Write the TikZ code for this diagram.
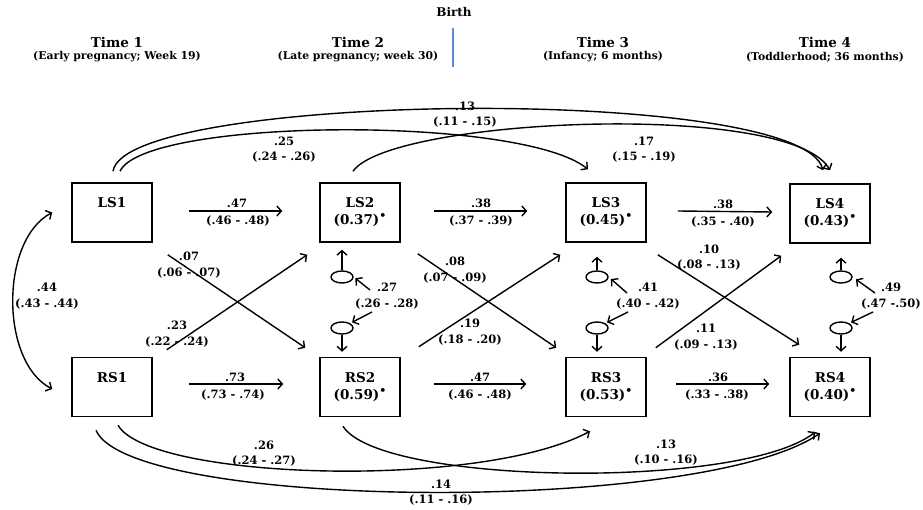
\documentclass[tikz,border=0pt]{standalone}
\usepackage{fontspec}
\setmainfont{DejaVu Serif}
\usetikzlibrary{arrows.meta,shapes.geometric}
\definecolor{birthblue}{RGB}{90,140,210}
\newcommand{\sigdot}{\raisebox{0.38em}{\fontsize{11}{11}\selectfont•}}
\begin{document}
\begin{tikzpicture}[x=1pt,y=-1pt,
  box/.style={draw, line width=1.5pt, minimum width=80pt, minimum height=59pt, inner sep=0pt, align=center, font=\bfseries\fontsize{13.5}{17}\selectfont},
  lbl/.style={inner sep=0pt, align=center, font=\bfseries\fontsize{11.5}{15.5}\selectfont},
  hdr/.style={inner sep=0pt, font=\bfseries\fontsize{13.5}{15}\selectfont},
  sub/.style={inner sep=0pt, font=\bfseries\fontsize{10.8}{12}\selectfont},
  ell/.style={ellipse, draw, line width=1.4pt, minimum width=22pt, minimum height=12pt, inner sep=0pt},
  arr/.style={line width=1.4pt, -{Straight Barb[length=4.5pt,width=10pt]}},
  arrtwo/.style={line width=1.4pt, {Straight Barb[length=4.5pt,width=10pt]}-{Straight Barb[length=4.5pt,width=10pt]}}
]
\fill[white] (0,0) rectangle (923,510);
\useasboundingbox (0,0) rectangle (923,510);

% header
\node[hdr, font=\bfseries\fontsize{12}{14}\selectfont] (birth) at (454,12) {Birth};
\draw[birthblue, line width=2.5pt] (453,28) -- (453,67);
\node[hdr] (t1) at (117,42) {Time 1};
\node[sub] (s1) at (117,57) {(Early pregnancy; Week 19)};
\node[hdr] (t2) at (358,42) {Time 2};
\node[sub] (s2) at (358,57) {(Late pregnancy; week 30)};
\node[hdr] (t3) at (603,42) {Time 3};
\node[sub] (s3) at (603,57) {(Infancy; 6 months)};
\node[hdr] (t4) at (825,42) {Time 4};
\node[sub] (s4) at (825,57) {(Toddlerhood; 36 months)};

% boxes
\node[box] (LS1) at (112,212.5) {LS1\\\phantom{(0.37)}};
\node[box] (LS2) at (360,212.5) {LS2\\(0.37)\sigdot};
\node[box] (LS3) at (606,212.5) {LS3\\(0.45)\sigdot};
\node[box] (LS4) at (830,213.5) {LS4\\(0.43)\sigdot};
\node[box] (RS1) at (112,387) {RS1\\\phantom{(0.59)}};
\node[box] (RS2) at (360,387) {RS2\\(0.59)\sigdot};
\node[box] (RS3) at (606,387) {RS3\\(0.53)\sigdot};
\node[box] (RS4) at (830,387) {RS4\\(0.40)\sigdot};

% residual ellipses
\node[ell] (e2u) at (342,277) {};
\node[ell] (e2d) at (342,328) {};
\node[ell] (e3u) at (597,277) {};
\node[ell] (e3d) at (597,328) {};
\node[ell] (e4u) at (841,277) {};
\node[ell] (e4d) at (841,328) {};
\draw[arr, shorten >=7pt] (e2u.north) -- (e2u.north |- LS2.south);
\draw[arr, shorten >=14pt] (e3u.north) -- (e3u.north |- LS3.south);
\draw[arr, shorten >=14pt] (e4u.north) -- (e4u.north |- LS4.south);
\draw[arr, shorten >=5pt] (e2d.south) -- (e2d.south |- RS2.north);
\draw[arr, shorten >=5pt] (e3d.south) -- (e3d.south |- RS3.north);
\draw[arr, shorten >=5pt] (e4d.south) -- (e4d.south |- RS4.north);

% residual covariances
\node[lbl] (c27) at (387,296) {.27\\(.26 - .28)};
\node[lbl] (c41) at (648,296) {.41\\(.40 - .42)};
\node[lbl] (c49) at (891,296) {.49\\(.47 -.50)};
\coordinate (c27a) at (370,290);
\coordinate (c27b) at (372,312);
\coordinate (c41a) at (627,293);
\coordinate (c41b) at (628,312);
\coordinate (c49a) at (875,293);
\coordinate (c49b) at (873,312);
\draw[arr, shorten >=2pt] (c27a) -- (e2u.east);
\draw[arr, shorten >=2pt] (c27b) -- (e2d.north east);
\draw[arr, shorten >=3pt] (c41a) -- (e3u.east);
\draw[arr, shorten >=2pt] (c41b) -- (e3d.north east);
\draw[arr, shorten >=4pt] (c49a) -- (e4u.east);
\draw[arr, shorten >=2pt] (c49b) -- (e4d.north east);

% horizontal paths
\draw[arr] ([shift={(36,-1.5)}]LS1.east) -- ([shift={(-37,-1.5)}]LS2.west);
\draw[arr] ([shift={(33,-1.5)}]LS2.east) -- ([shift={(-38,-1.5)}]LS3.west);
\draw[arr] ([shift={(31,-1.5)}]LS3.east) -- ([shift={(-17,-1.5)}]LS4.west);
\draw[arr] ([shift={(36,-3)}]RS1.east) -- ([shift={(-36,-3)}]RS2.west);
\draw[arr] ([shift={(33,-3)}]RS2.east) -- ([shift={(-39,-3)}]RS3.west);
\draw[arr] ([shift={(29,-3)}]RS3.east) -- ([shift={(-20,-3)}]RS4.west);
\node[lbl] (h47a) at (237,203) {.47};
\node[lbl] (h47b) at (238,221) {(.46 - .48)};
\node[lbl] (h38a) at (481,203) {.38};
\node[lbl] (h38b) at (481,221) {(.37 - .39)};
\node[lbl] (h38c) at (723,204) {.38};
\node[lbl] (h38d) at (723,222) {(.35 - .40)};
\node[lbl] (h73a) at (235,377) {.73};
\node[lbl] (h73b) at (233,395) {(.73 - .74)};
\node[lbl] (h47c) at (480,377) {.47};
\node[lbl] (h47d) at (480,395) {(.46 - .48)};
\node[lbl] (h36a) at (718,377) {.36};
\node[lbl] (h36b) at (717,395) {(.33 - .38)};

% cross-lagged paths
\node[lbl] (x07) at (189,265) {.07\\(.06 - .07)};
\node[lbl] (x23) at (177,334) {.23\\(.22 - .24)};
\node[lbl] (x08) at (455,270) {.08\\(.07 - .09)};
\node[lbl] (x19) at (470,332) {.19\\(.18 - .20)};
\node[lbl] (x10) at (709,257.5) {.10\\(.08 - .13)};
\node[lbl] (x11) at (706,337) {.11\\(.09 - .13)};
\draw[arr] ([shift={(15,12)}]LS1.south east) -- ([shift={(-14,-9)}]RS2.north west);
\draw[arr] ([shift={(14,-7)}]RS1.north east) -- ([shift={(-12,12)}]LS2.south west);
\draw[arr] ([shift={(17,11)}]LS2.south east) -- ([shift={(-9,-9)}]RS3.north west);
\draw[arr] ([shift={(18,-10)}]RS2.north east) -- ([shift={(-5,12)}]LS3.south west);
\draw[arr] ([shift={(11,12)}]LS3.south east) -- ([shift={(10,-12)}]RS4.north west);
\draw[arr] ([shift={(9,-9)}]RS3.north east) -- ([shift={(-8,12)}]LS4.south west);

% concurrent correlation
\node[lbl] (c44) at (47,296) {.44\\(.43 - .44)};
\draw[arrtwo] ([shift={(-19,0)}]LS1.west) .. controls (0,240) and (0,362) .. ([shift={(-19,2)}]RS1.west);

% long lags top
\node[lbl] (l13) at (465,114.5) {.13\\(.11 - .15)};
\node[lbl] (l25) at (284,149.5) {.25\\(.24 - .26)};
\node[lbl] (l17) at (644,149.5) {.17\\(.15 - .19)};
\draw[arr] ([shift={(1,-11)}]LS1.north) .. controls (125,92) and (800,84) .. ([shift={(-7,-13)}]LS4.north);
\draw[arr] ([shift={(8,-11)}]LS1.north) .. controls (145,118) and (520,115) .. ([shift={(-18,-13)}]LS3.north);
\draw[arr] ([shift={(-7,-11)}]LS2.north) .. controls (390,118) and (790,100) .. ([shift={(0,-13)}]LS4.north);

% long lags bottom
\node[lbl] (b26) at (264,453.5) {.26\\(.24 - .27)};
\node[lbl] (b13) at (666,452.5) {.13\\(.10 - .16)};
\node[lbl] (b14) at (441,492.5) {.14\\(.11 - .16)};
\draw[arr] ([shift={(6,8)}]RS1.south) .. controls (150,480) and (480,490) .. ([shift={(-16,14)}]RS3.south);
\draw[arr] ([shift={(-17,9)}]RS2.south) .. controls (380,485) and (740,490) .. ([shift={(-15,15)}]RS4.south);
\draw[arr] ([shift={(-16,13)}]RS1.south) .. controls (130,510) and (700,515) .. ([shift={(-10,16)}]RS4.south);
\end{tikzpicture}
\end{document}
